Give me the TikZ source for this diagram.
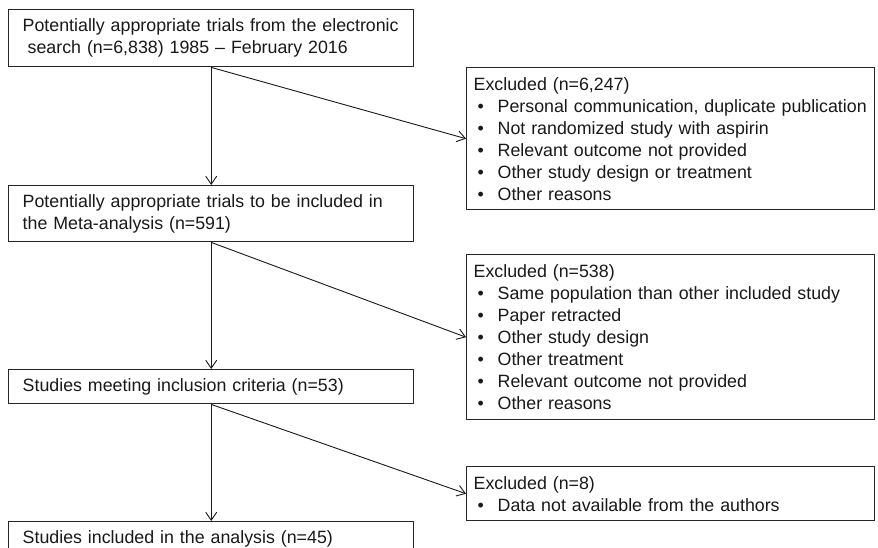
\documentclass[tikz,border=0pt]{standalone}
\usepackage{fontspec}
\setmainfont{Liberation Sans}
\usetikzlibrary{arrows.meta}
\tikzset{
  box/.style={draw=black!85, line width=1.4pt, anchor=north west, align=left,
    inner xsep=14pt, inner ysep=0pt, text=black!90,
    font=\fontsize{17.8}{22}\selectfont},
  exbox/.style={box, inner xsep=7pt},
  arr/.style={draw=black!90, line width=0.9pt, -{Straight Barb[length=8pt,width=11pt]}},
}
\newcommand{\bul}{\makebox[24pt][l]{\hspace*{4pt}\textbullet}}
\begin{document}
\begin{tikzpicture}[x=1pt,y=-1pt]
\useasboundingbox[fill=white] (0,0) rectangle (878,548);
\node[box, minimum width=405, minimum height=57, text width=377pt] (b1) at (8,9)
  {Potentially appropriate trials from the electronic\\\hspace*{5pt}search (n=6,838) 1985 -- February 2016};
\node[box, minimum width=405, minimum height=56, text width=377pt] (b2) at (8,185)
  {Potentially appropriate trials to be included in\\the Meta-analysis (n=591)};
\node[box, minimum width=405, minimum height=34, text width=377pt] (b3) at (8,369)
  {Studies meeting inclusion criteria (n=53)};
\node[box, minimum width=405, minimum height=34, text width=377pt] (b4) at (8,521)
  {Studies included in the analysis (n=45)};
\node[exbox, minimum width=408, minimum height=142, text width=394pt] (e1) at (466,67)
  {Excluded (n=6,247)\\
   \bul Personal communication, duplicate publication\\
   \bul Not randomized study with aspirin\\
   \bul Relevant outcome not provided\\
   \bul Other study design or treatment\\
   \bul Other reasons};
\node[exbox, minimum width=408, minimum height=165, text width=394pt] (e2) at (466,254)
  {Excluded (n=538)\\
   \bul Same population than other included study\\
   \bul Paper retracted\\
   \bul Other study design\\
   \bul Other treatment\\
   \bul Relevant outcome not provided\\
   \bul Other reasons};
\node[exbox, minimum width=408, minimum height=54, text width=394pt] (e3) at (466,466)
  {Excluded (n=8)\\
   \bul Data not available from the authors};
\draw[arr] (b1.south) -- (b2.north);
\draw[arr] (b2.south) -- (b3.north);
\draw[arr] (b3.south) -- (b4.north);
\draw[arr] (b1.south) -- (e1.west);
\draw[arr] (b2.south) -- (e2.west);
\draw[arr] (b3.south) -- (e3.west);
\end{tikzpicture}
\end{document}
